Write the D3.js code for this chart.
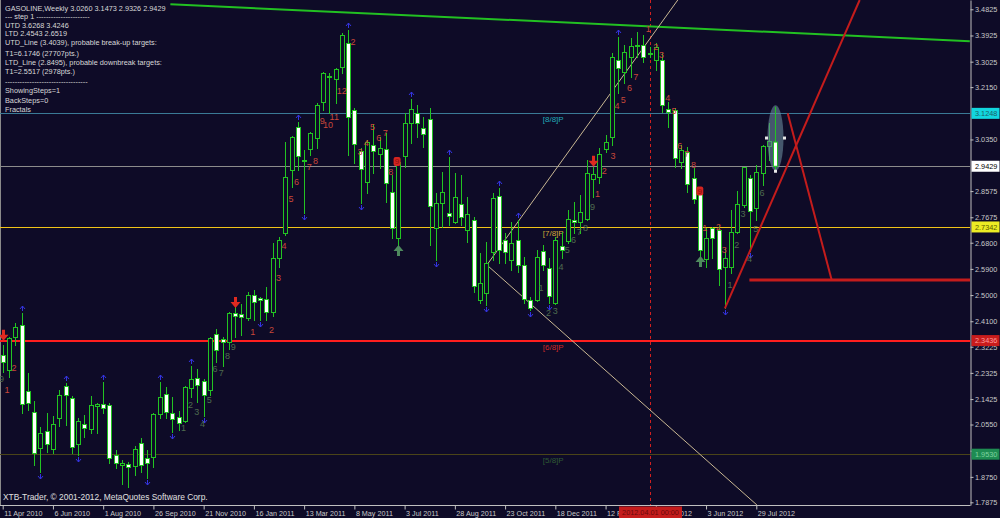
<!DOCTYPE html>
<html><head><meta charset="utf-8">
<script src="https://cdn.jsdelivr.net/npm/d3@7"></script>
<style>
html,body{margin:0;padding:0;background:#0e0b27;overflow:hidden;}
svg{display:block;}
text{font-family:"Liberation Sans",Arial,sans-serif;}
</style></head><body>
<svg id="c" width="1000" height="518"></svg>
<script>
// ---------- DATA ----------
const opens = [2.294,2.242,2.356,2.397,2.170,2.098,1.974,2.033,1.971,2.077,2.187,2.146,1.988,2.057,2.040,2.118,2.126,2.122,1.950,1.916,
1.919,1.912,1.991,1.940,1.943,2.091,2.160,2.095,2.081,2.067,2.181,2.215,2.205,2.174,2.366,2.349,2.339,2.438,2.435,2.421,
2.500,2.490,2.487,2.442,2.628,2.713,2.930,3.078,2.966,3.002,3.040,3.164,3.254,3.243,3.284,3.367,3.136,2.995,2.889,3.016,
2.985,3.002,2.854,2.696,2.978,3.092,3.126,3.074,3.105,2.731,2.817,2.782,2.751,2.813,2.724,2.758,2.483,2.507,2.648,2.841,
2.689,2.621,2.689,2.603,2.483,2.483,2.652,2.593,2.473,2.669,2.686,2.758,2.751,2.762,2.899,2.906,3.002,3.044,3.308,3.267,
3.318,3.360,3.360,3.334,3.308,3.308,3.140,3.136,2.958,2.992,2.902,2.848,2.624,2.731,2.724,2.597,2.597,2.717,2.810,2.902,
2.799,2.920,3.013,3.026];
const highs = [2.328,2.356,2.404,2.438,2.232,2.136,2.046,2.095,2.084,2.174,2.198,2.153,2.077,2.088,2.153,2.129,2.201,2.129,1.967,1.933,
1.926,1.981,2.009,1.967,2.095,2.201,2.184,2.150,2.101,2.187,2.256,2.246,2.212,2.356,2.383,2.356,2.441,2.466,2.469,2.511,
2.518,2.493,2.528,2.679,2.700,3.026,3.047,3.095,2.999,3.061,3.161,3.267,3.264,3.280,3.400,3.411,3.143,3.006,3.033,3.088,
3.044,3.057,2.913,2.964,3.126,3.174,3.154,3.112,3.143,2.851,2.923,2.975,2.920,2.913,2.837,2.768,2.645,2.682,2.851,2.868,
2.713,2.751,2.758,2.631,2.493,2.655,2.672,2.628,2.700,2.717,2.793,2.820,2.844,2.964,2.940,3.006,3.050,3.332,3.387,3.360,
3.384,3.405,3.394,3.353,3.367,3.332,3.164,3.143,3.016,3.009,2.937,2.868,2.731,2.734,2.741,2.662,2.793,2.858,2.942,2.913,
2.947,3.016,3.092,3.1473];
const lows = [2.236,2.218,2.328,2.095,2.105,1.916,1.892,1.961,1.957,2.050,2.053,1.957,1.950,2.012,2.026,2.026,2.095,1.923,1.906,1.850,
1.840,1.881,1.892,1.871,1.909,2.077,2.077,2.029,2.036,2.064,2.150,2.132,2.084,2.156,2.270,2.256,2.315,2.356,2.363,2.414,
2.414,2.414,2.414,2.428,2.597,2.707,2.872,2.930,2.782,2.982,3.006,3.136,3.126,3.161,3.264,2.982,2.954,2.817,2.851,2.920,
2.937,2.820,2.696,2.645,2.940,3.023,3.044,3.009,2.672,2.621,2.734,2.741,2.748,2.741,2.682,2.511,2.473,2.466,2.621,2.610,
2.610,2.586,2.579,2.473,2.449,2.480,2.586,2.473,2.470,2.628,2.679,2.713,2.713,2.758,2.837,2.885,2.992,3.016,3.195,3.229,
3.250,3.318,3.301,3.318,3.274,3.129,3.078,2.940,2.937,2.854,2.817,2.621,2.597,2.628,2.535,2.4543,2.576,2.713,2.803,2.6519,
2.758,2.878,2.964,2.9326];
const closes = [2.270,2.353,2.390,2.126,2.129,1.957,2.026,1.988,2.057,2.156,2.156,1.978,2.067,2.043,2.122,2.126,2.112,1.940,1.923,1.923,
1.909,1.971,1.916,1.923,2.091,2.150,2.098,2.074,2.060,2.184,2.212,2.191,2.156,2.353,2.311,2.339,2.438,2.428,2.425,2.500,
2.476,2.483,2.442,2.628,2.689,2.906,3.044,2.978,2.964,3.057,3.154,3.264,3.250,3.277,3.394,3.112,3.019,2.933,3.026,2.995,
3.006,2.885,2.731,2.958,3.092,3.140,3.092,3.054,2.806,2.817,2.854,2.772,2.837,2.768,2.779,2.531,2.541,2.610,2.834,2.655,
2.648,2.679,2.603,2.487,2.456,2.631,2.603,2.497,2.689,2.655,2.762,2.751,2.786,2.920,2.916,2.985,3.026,3.318,3.281,3.336,
3.356,3.358,3.318,3.330,3.353,3.154,3.129,2.971,2.999,2.882,2.830,2.655,2.696,2.696,2.590,2.628,2.717,2.813,2.940,2.789,
2.923,3.013,3.030,2.9429];

const xTickLabels = ["11 Apr 2010","6 Jun 2010","1 Aug 2010","26 Sep 2010","21 Nov 2010","16 Jan 2011","13 Mar 2011","8 May 2011",
"3 Jul 2011","28 Aug 2011","23 Oct 2011","18 Dec 2011","12 Feb 2012","8 Apr 2012","3 Jun 2012","29 Jul 2012"];
const yTickValues = [3.4825,3.3925,3.3025,3.2150,3.0350,2.8575,2.7675,2.6800,2.5900,2.5000,2.4100,2.3225,2.2325,2.1425,2.0550,1.9650,1.8750,1.7875];

const levelNames = ["[8/8]P","[7/8]P","[6/8]P","[5/8]P"];
const levelValues = [3.1248, 2.7342, 2.3436, 1.9530];
const lastPrice = 2.9429;

const infoLines = ["GASOLINE,Weekly  3.0260 3.1473 2.9326 2.9429",
"---    step 1    ----------------------",
"UTD 3.6268  3.4246",
"LTD  2.4543  2.6519",
"UTD_Line (3.4039), probable break-up targets:",
"T1=6.1746 (27707pts.)",
"LTD_Line (2.8495), probable downbreak targets:",
"T1=2.5517 (2978pts.)",
"----------------------------------",
"ShowingSteps=1",
"BackSteps=0",
"Fractals"];
const copyright = "XTB-Trader, \u00A9 2001-2012, MetaQuotes Software Corp.";

const fractalUp = [3,10,16,25,30,47,55,65,71,79,82,98];
const fractalDown = [6,12,23,27,32,41,48,57,69,77,84,87,115,119];
const sellArrows = [[0,2.36],[37,2.473],[94,2.958]];
const buyArrows = [[63,2.655],[111,2.617]];
const signalNines = [[62.8,2.959],[111.0,2.858]];
const sellCounts = [[0.7,2.174,"1"],[1.8,2.249,"2"],
[39.8,2.374,"1"],[42.8,2.380,"2"],[43.9,2.559,"3"],[44.8,2.669,"4"],[45.9,2.830,"5"],[46.8,2.889,"6"],[48.8,2.941,"7"],[49.8,2.961,"8"],
[50.9,3.099,"9"],[51.8,3.085,"10"],[52.8,3.113,"11"],[54.0,3.202,"12"],[55.8,3.371,"2"],
[56.9,2.993,"3"],[57.9,3.024,"4"],[58.9,3.079,"5"],[59.9,3.039,"6"],[60.9,3.057,"7"],[61.8,2.924,"8"],
[94.7,2.848,"1"],[95.8,2.927,"2"],[97.2,2.978,"3"],[97.8,3.150,"4"],[98.8,3.171,"5"],[99.8,3.212,"6"],[100.8,3.251,"7"],
[102.8,3.417,"1"],[104.0,3.354,"2"],[104.9,3.325,"3"],[105.9,3.177,"4"],[106.9,3.134,"5"],[107.8,3.013,"6"],[108.9,2.987,"7"],[110.0,2.947,"8"],
[111.8,2.731,"1"],[114.0,2.734,"2"],[114.9,2.655,"3"]];
const buyCounts = [[-0.2,2.212,"9"],
[28.8,2.044,"1"],[29.9,2.122,"2"],[30.9,2.099,"3"],[31.8,2.057,"4"],[32.9,2.139,"5"],[33.8,2.246,"6"],[34.8,2.232,"7"],[35.8,2.291,"8"],[36.7,2.323,"9"],
[85.7,2.524,"1"],[86.9,2.439,"2"],[88.0,2.446,"3"],[88.9,2.598,"4"],[89.9,2.655,"5"],[90.9,2.689,"6"],[91.8,2.718,"7"],[92.8,2.731,"8"],[93.9,2.804,"9"],
[115.8,2.535,"1"],[116.9,2.672,"2"],[117.9,2.779,"3"],[118.9,2.624,"4"],[119.9,2.727,"5"],[120.9,2.851,"6"]];

const utdPoints = [[26.7,3.4998],[154,3.3731]];
const ltdPoints = [[115,2.4543],[119,2.6519]];
const fanVertex = [77.1,2.6035];
const fanUpPoint = [105.2,3.4457];
const fanDownPoint = [120.1,1.7783];
const targetLinePoints = [[125,3.1248],[132,2.5517]];
const targetLevel = [118.9, 2.5517];
const markerBar = 103;
const markerLabel = "2012.04.01 00:00";

// ---------- SCALES ----------
const W = 970, H = 505;
const bg = "#0e0b27";
const green = "#22c422";
const x = d3.scaleLinear().domain([0,154]).range([2.7, 2.7 + 6.28*154]);
const y = d3.scaleLinear().domain([1.7783, 3.5145]).range([H, 0]);
const px = i => Math.round(x(i)) + 0.5;
const py = v => Math.round(y(v)) + 0.5;

const svg = d3.select("#c");
svg.append("rect").attr("width",1000).attr("height",518).attr("fill",bg);
svg.append("defs").append("clipPath").attr("id","plot")
  .append("rect").attr("x",0).attr("y",0).attr("width",W).attr("height",H);
const g = svg.append("g").attr("clip-path","url(#plot)");

// left border
g.append("line").attr("x1",0.5).attr("x2",0.5).attr("y1",0).attr("y2",H).attr("stroke","#8a8a8a");

// level lines
const levelColors = ["#3a7a96","#f0c418","#ff1e1e","#4a4418"];
const levelWidths = [1,1,2,1];
const levelText = ["#22a8b8","#d0a838","#d02828","#2e5a34"];
levelValues.forEach((v,k)=>{
  const yy = levelWidths[k]===2 ? Math.round(y(v)) : py(v);
  g.append("line").attr("x1",0).attr("x2",W).attr("y1",yy).attr("y2",yy)
    .attr("stroke",levelColors[k]).attr("stroke-width",levelWidths[k]);
  g.append("text").attr("x",x(86)).attr("y",py(v)+8.5).attr("font-size","8px")
    .attr("fill",levelText[k]).text(levelNames[k]);
});
g.append("line").attr("x1",0).attr("x2",W).attr("y1",py(lastPrice)).attr("y2",py(lastPrice))
  .attr("stroke","#8c8c8c");

// vertical marker
g.append("line").attr("x1",px(markerBar)).attr("x2",px(markerBar)).attr("y1",0).attr("y2",H)
  .attr("stroke","#d02020").attr("stroke-dasharray","3,3");

// UTD green line
g.append("line").attr("x1",x(utdPoints[0][0])).attr("y1",y(utdPoints[0][1]))
  .attr("x2",x(utdPoints[1][0])).attr("y2",y(utdPoints[1][1]))
  .attr("stroke","#22c022").attr("stroke-width",2);

// fan lines
function extendToTop(a,b){
  const s=(b[1]-a[1])/(b[0]-a[0]);
  const top=y.domain()[1];
  return [a[0]+(top-a[1])/s, top];
}
const fanTop = extendToTop(fanVertex, fanUpPoint);
[[fanVertex,fanTop],[fanVertex,fanDownPoint]].forEach(([a,b])=>{
  g.append("line").attr("x1",x(a[0])).attr("y1",y(a[1])).attr("x2",x(b[0])).attr("y2",y(b[1]))
    .attr("stroke","#c9b893").attr("stroke-width",1);
});

// candles
const bars = d3.range(opens.length).map(i=>({i,o:opens[i],h:highs[i],l:lows[i],c:closes[i]}));
const cg = g.append("g");
cg.selectAll("line").data(bars).join("line")
  .attr("x1",d=>px(d.i)).attr("x2",d=>px(d.i))
  .attr("y1",d=>Math.round(y(d.h))).attr("y2",d=>Math.round(y(d.l))+1)
  .attr("stroke",green);
cg.selectAll("rect").data(bars).join("rect")
  .attr("x",d=>px(d.i)-2).attr("width",4)
  .attr("y",d=>Math.round(Math.min(y(d.o),y(d.c)))+0.5)
  .attr("height",d=>Math.max(1,Math.round(Math.abs(y(d.o)-y(d.c)))))
  .attr("fill",d=>d.c<d.o?"#ffffff":bg)
  .attr("stroke",green);

// LTD red line + target lines
const ltdTop = extendToTop(ltdPoints[0], ltdPoints[1]);
g.append("line").attr("x1",x(ltdPoints[0][0])).attr("y1",y(ltdPoints[0][1]))
  .attr("x2",x(ltdTop[0])).attr("y2",y(ltdTop[1])).attr("stroke","#c41c1c").attr("stroke-width",2);
g.append("line").attr("x1",x(targetLinePoints[0][0])).attr("y1",y(targetLinePoints[0][1]))
  .attr("x2",x(targetLinePoints[1][0])).attr("y2",y(targetLinePoints[1][1])).attr("stroke","#c41c1c").attr("stroke-width",2);
g.append("line").attr("x1",x(targetLevel[0])).attr("x2",W).attr("y1",y(targetLevel[1])).attr("y2",y(targetLevel[1]))
  .attr("stroke","#c41c1c").attr("stroke-width",3);

// ellipse on last bar
const last = bars[bars.length-1];
const ecy = (y(last.h)+y(last.l))/2;
g.append("ellipse").attr("cx",px(last.i)).attr("cy",ecy).attr("rx",8).attr("ry",(y(last.l)-y(last.h))/2+1.5)
  .attr("fill","#6a8a9c").attr("fill-opacity",0.6);
g.append("line").attr("x1",px(last.i)).attr("x2",px(last.i)).attr("y1",y(last.h)).attr("y2",y(last.l)).attr("stroke",green);
g.append("rect").attr("x",px(last.i)-2).attr("width",4).attr("y",y(last.o)).attr("height",y(last.c)-y(last.o))
  .attr("fill","#ffffff").attr("stroke",green);
[[px(last.i)-9,ecy],[px(last.i)+9,ecy],[px(last.i),y(last.l)+2]].forEach(([hx,hy])=>{
  g.append("rect").attr("x",hx-1.5).attr("y",hy-1.5).attr("width",3).attr("height",3).attr("fill","#e8e8e8");
});

// fractals
const fg = g.append("g").attr("stroke","#3434e0").attr("fill","none").attr("stroke-width",1);
fractalUp.forEach(i=>{
  const cx=px(i), t=Math.round(y(highs[i]))-7;
  fg.append("path").attr("d",`M${cx},${t}L${cx-2.5},${t+3}M${cx},${t}L${cx+2.5},${t+3}M${cx},${t}L${cx},${t+5}`);
});
fractalDown.forEach(i=>{
  const cx=px(i), b=Math.round(y(lows[i]))+7;
  fg.append("path").attr("d",`M${cx},${b}L${cx-2.5},${b-3}M${cx},${b}L${cx+2.5},${b-3}M${cx},${b}L${cx},${b-5}`);
});

// arrows
sellArrows.forEach(([i,p])=>{
  const cx=px(i), cy=y(p);
  g.append("path").attr("d",`M${cx-1.5},${cy-6}h3v5h3.5l-5,6l-5,-6h3.5z`).attr("fill","#e02a20");
});
buyArrows.forEach(([i,p])=>{
  const cx=px(i), cy=y(p);
  g.append("path").attr("d",`M${cx-1.5},${cy+6}h3v-5h3.5l-5,-6l-5,6h3.5z`).attr("fill","#4e8a5e");
});

// count labels
const lg = g.append("g").attr("font-size","9px").attr("text-anchor","middle");
lg.selectAll("text.s").data(sellCounts).join("text").attr("class","s")
  .attr("x",d=>x(d[0])).attr("y",d=>y(d[1])).attr("dy","0.35em").attr("fill","#c8483a").text(d=>d[2]);
lg.selectAll("text.b").data(buyCounts).join("text").attr("class","b")
  .attr("x",d=>x(d[0])).attr("y",d=>y(d[1])).attr("dy","0.35em").attr("fill","#4f6c4f").text(d=>d[2]);
signalNines.forEach(([i,p])=>{
  g.append("rect").attr("x",x(i)-3.5).attr("y",y(p)-4.5).attr("width",7).attr("height",9).attr("rx",2).attr("fill","#d42420");
  g.append("text").attr("x",x(i)).attr("y",y(p)).attr("dy","0.35em").attr("text-anchor","middle")
    .attr("font-size","8px").attr("fill","#8a1010").text("9");
});

// info text
svg.append("g").attr("font-size","7.3px").attr("fill","#d8d8d8")
  .selectAll("text").data(infoLines).join("text")
  .attr("x",5).attr("y",(d,k)=>[11,19.4,27.7,36,45.4,55.7,64.7,74.4,84.4,93.4,102.7,112][k]).text(d=>d);
svg.append("text").attr("x",3).attr("y",500.3).attr("font-size","8.4px").attr("fill","#e0e0e0").text(copyright);

// axes
const xAxis = svg.append("g").attr("transform",`translate(0,${H+0.5})`)
  .call(d3.axisBottom(x).tickValues(d3.range(0,121,8)).tickSize(4).tickFormat((d,k)=>xTickLabels[k]));
xAxis.select(".domain").remove();
xAxis.selectAll(".tick line").attr("stroke","#c0c0c0");
xAxis.selectAll(".tick text").attr("text-anchor","start").attr("x",1).attr("y",5.3).attr("dy","0.71em")
  .attr("fill","#c8c8c8").attr("font-size","7.2px").attr("font-family","Liberation Sans, Arial, sans-serif");
svg.append("line").attr("x1",0).attr("x2",W+0.5).attr("y1",H+0.5).attr("y2",H+0.5).attr("stroke","#c0c0c0");

const yAxis = svg.append("g").attr("transform",`translate(${W+0.5},0)`)
  .call(d3.axisRight(y).tickValues(yTickValues).tickSize(3).tickSizeOuter(0).tickPadding(1.5).tickFormat(d3.format(".4f")));
yAxis.select(".domain").attr("stroke","#c0c0c0");
yAxis.selectAll(".tick line").attr("stroke","#c0c0c0");
yAxis.selectAll(".tick text").attr("fill","#c8c8c8").attr("font-size","7.3px").attr("font-family","Liberation Sans, Arial, sans-serif");

// price label boxes
const boxes = [[levelValues[0],"#12d6de","#1d5e66"],[lastPrice,"#ffffff","#000000"],[levelValues[1],"#ecec24","#5a5a00"],
               [levelValues[2],"#c81c1c","#ff9a9a"],[levelValues[3],"#1e8c52","#7ed2a0"]];
boxes.forEach(([v,fill,tc])=>{
  svg.append("rect").attr("x",W+1.5).attr("y",y(v)-5.5).attr("width",28).attr("height",11).attr("fill",fill);
  svg.append("text").attr("x",W+5).attr("y",y(v)).attr("dy","0.35em").attr("font-size","7.3px").attr("fill",tc)
    .text(d3.format(".4f")(v));
});

// marker time label
svg.append("rect").attr("x",px(markerBar)-31.5).attr("y",H+1.5).attr("width",63).attr("height",12).attr("fill","#c41c1c");
svg.append("text").attr("x",px(markerBar)).attr("y",H+7.5).attr("dy","0.35em").attr("text-anchor","middle")
  .attr("font-size","7.3px").attr("fill","#6a0a0a").text(markerLabel);
</script>
</body></html>
